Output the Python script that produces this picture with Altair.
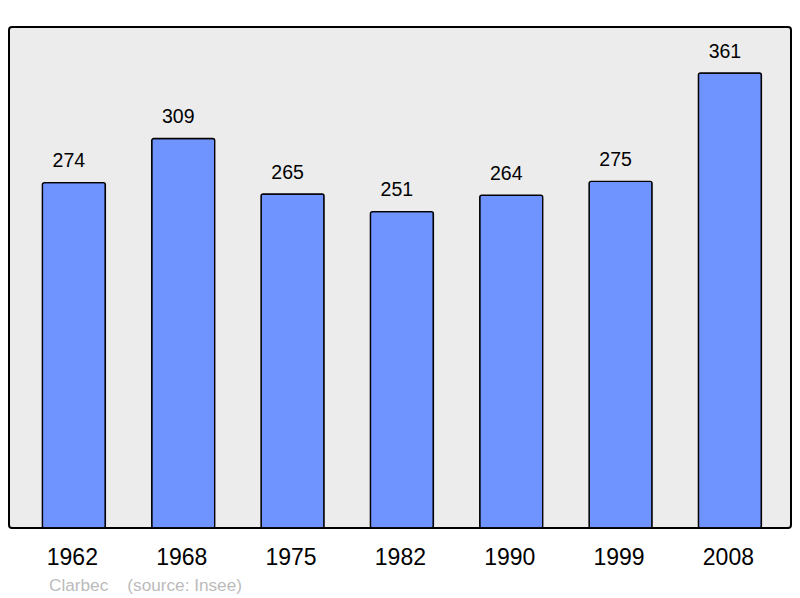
import altair as alt
import pandas as pd

years = ["1962", "1968", "1975", "1982", "1990", "1999", "2008"]
population = [274, 309, 265, 251, 264, 275, 361]
footer = "Clarbec\u00a0\u00a0\u00a0\u00a0(source: Insee)"

df = pd.DataFrame({"year": years, "pop": population})

x = alt.X(
    "year:N",
    sort=years,
    scale=alt.Scale(paddingInner=0.424, paddingOuter=0.288, align=0.53),
    axis=alt.Axis(
        title=None, labelAngle=0, domain=False, ticks=False, tickSize=0,
        labelFontSize=23, labelFont="Liberation Sans", labelColor="#000000",
        labelPadding=29, labelBaseline="middle", labelOffset=-1.5,
    ),
)
y = alt.Y("pop:Q", scale=alt.Scale(domain=[0, 397.5], nice=False, zero=True), axis=None)

bars = alt.Chart(df).mark_bar(
    color="#7094ff", stroke="#000000", strokeWidth=1.4, cornerRadius=2
).encode(x=x, y=y)

labels = alt.Chart(df).mark_text(
    font="Liberation Sans", fontSize=19.5, color="#000000", baseline="middle",
    dy=-21.5, dx=-5
).encode(x=x, y=y, text="pop:Q")

chart = (bars + labels).properties(
    width=782,
    height=501,
    autosize=alt.AutoSizeParams(type="none"),
    padding={"left": 1, "top": 19, "right": 1, "bottom": 70},
    title=alt.TitleParams(
        footer, orient="bottom", anchor="start", frame="group",
        font="Liberation Sans", fontSize=17.2, fontWeight="normal",
        color="#bbbbbb", dx=40, offset=8,
    ),
).configure_view(
    fill="#ececec", stroke="#000000", strokeWidth=2, cornerRadius=3
)

chart.save("out.html", embed_options={"renderer": "svg", "actions": False})
